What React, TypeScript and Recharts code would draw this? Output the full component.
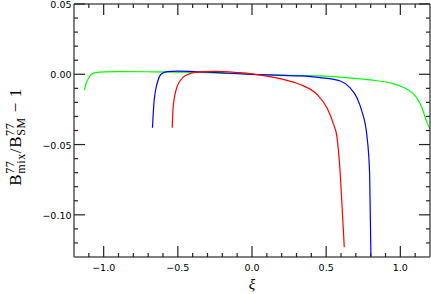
import { LineChart, Line, XAxis, YAxis } from 'recharts';

// tick positions (majors every 0.5 on x, every 0.05 on y)
const xMajorTicks = [-1.0, -0.5, 0, 0.5, 1.0];
const xMinorTicks = [
  -1.1, -0.9, -0.8, -0.7, -0.6, -0.4, -0.3, -0.2, -0.1,
  0.1, 0.2, 0.3, 0.4, 0.6, 0.7, 0.8, 0.9, 1.1,
];
const yMajorTicks = [-0.10, -0.05, 0, 0.05];
const yMinorTicks = [
  -0.12, -0.11, -0.09, -0.08, -0.07, -0.06, -0.04, -0.03,
  -0.02, -0.01, 0.01, 0.02, 0.03, 0.04,
];

// curves: [xi, value]
const greenCurve: [number, number][] = [
  [-1.13, -0.0112], [-1.12, -0.0071], [-1.10, -0.0024], [-1.08, 0.0002],
  [-1.05, 0.0012], [-1.0, 0.0017], [-0.9, 0.0019], [-0.7, 0.0018],
  [-0.5, 0.0015], [-0.3, 0.0011], [-0.1, 0.0005], [0.0, 0.0],
  [0.2, -0.0005], [0.46, -0.0012], [0.65, -0.0025], [0.8, -0.004],
  [0.95, -0.0067], [1.045, -0.0107], [1.11, -0.0166], [1.146, -0.0238],
  [1.18, -0.0344], [1.2, -0.039],
];
const blueCurve: [number, number][] = [
  [-0.671, -0.038], [-0.666, -0.028], [-0.662, -0.0214], [-0.651, -0.0119],
  [-0.635, -0.0048], [-0.613, 0.0], [-0.572, 0.0019], [-0.5, 0.0022],
  [-0.35, 0.0017], [-0.2, 0.001], [0.0, 0.0], [0.2, -0.0008],
  [0.32, -0.0012], [0.46, -0.0024], [0.595, -0.0048], [0.66, -0.0095],
  [0.707, -0.0166], [0.74, -0.026], [0.775, -0.044], [0.793, -0.071],
  [0.802, -0.13],
];
const redCurve: [number, number][] = [
  [-0.538, -0.038], [-0.532, -0.0238], [-0.514, -0.0119], [-0.486, -0.0048],
  [-0.441, -0.0005], [-0.374, 0.0016], [-0.25, 0.002], [-0.1, 0.0012],
  [0.0, 0.0003], [0.1, -0.0013], [0.21, -0.0036], [0.32, -0.0071],
  [0.437, -0.0142], [0.505, -0.0238], [0.55, -0.0356], [0.572, -0.044],
  [0.595, -0.071], [0.61, -0.0996], [0.622, -0.123],
];

const toRows = (pts: [number, number][]) => pts.map(([xi, v]) => ({ xi, v }));

const W = 431;
const H = 294;
const X_DOMAIN: [number, number] = [-1.2, 1.2];
const Y_DOMAIN: [number, number] = [-0.13, 0.05];
// plot box: margin top 3 + top axis 1, left axis 74, right axis 1, bottom axis 37
const PLOT = { left: 74, top: 4, width: W - 74 - 1, height: H - 4 - 37 };
const TICK_FONT = 'DejaVu Sans';
const TICK_COLOR = '#222';
const FRAME = { stroke: '#555', strokeWidth: 1.5 };
const M = 2;
const MAJOR = 11;
const MINOR = 4;

const fmt = (v: number, d: number) => {
  const s = Math.abs(v).toFixed(d);
  return v < -1e-9 ? '\u2212' + s : s;
};

function BottomLabel({ x, y, payload }: any) {
  return (
    <text x={x} y={y - M + 14} textAnchor="middle" fontFamily={TICK_FONT} fontSize={9.5} fill="#000">
      {fmt(payload.value, 1)}
    </text>
  );
}

function LeftLabel({ x, y, payload }: any) {
  return (
    <text x={x + M - 2.5} y={y + 4} textAnchor="end" fontFamily={TICK_FONT} fontSize={9.5} fill="#000">
      {fmt(payload.value, 2)}
    </text>
  );
}

// inward tick marks on all four sides of the frame
function TickMarks() {
  const sx = (t: number) => PLOT.left + ((t - X_DOMAIN[0]) / (X_DOMAIN[1] - X_DOMAIN[0])) * PLOT.width;
  const sy = (v: number) => PLOT.top + ((Y_DOMAIN[1] - v) / (Y_DOMAIN[1] - Y_DOMAIN[0])) * PLOT.height;
  const bottom = PLOT.top + PLOT.height;
  const right = PLOT.left + PLOT.width;
  const xs = [
    ...xMajorTicks.map((t) => ({ p: sx(t), len: MAJOR })),
    ...xMinorTicks.map((t) => ({ p: sx(t), len: MINOR })),
  ];
  const ys = [
    ...yMajorTicks.map((t) => ({ p: sy(t), len: MAJOR })),
    ...yMinorTicks.map((t) => ({ p: sy(t), len: MINOR })),
  ];
  return (
    <svg width={W} height={H} style={{ position: 'absolute', left: 0, top: 0, pointerEvents: 'none' }}>
      <g stroke={TICK_COLOR} strokeWidth={1.2}>
        {xs.map(({ p, len }, i) => (
          <g key={`x${i}`}>
            <line x1={p} x2={p} y1={bottom} y2={bottom - len} />
            <line x1={p} x2={p} y1={PLOT.top} y2={PLOT.top + len} />
          </g>
        ))}
        {ys.map(({ p, len }, i) => (
          <g key={`y${i}`}>
            <line x1={PLOT.left} x2={PLOT.left + len} y1={p} y2={p} />
            <line x1={right} x2={right - len} y1={p} y2={p} />
          </g>
        ))}
      </g>
    </svg>
  );
}

function YLabel() {
  return (
    <text
      transform="translate(21,137) rotate(-90)"
      textAnchor="middle"
      fontFamily="Liberation Serif"
      fontSize={17}
      fill="#000"
      letterSpacing={0.6}
    >
      <tspan>B</tspan>
      <tspan dy={-7} fontSize={12}>77</tspan>
      <tspan dx={-13} dy={11} fontSize={12}>mix</tspan>
      <tspan dy={-4}>/B</tspan>
      <tspan dy={-7} fontSize={12}>77</tspan>
      <tspan dx={-13} dy={11} fontSize={12}>SM</tspan>
      <tspan dy={-4}>{' \u2212 1'}</tspan>
    </text>
  );
}

function XLabel({ viewBox }: any) {
  const { x, y, width } = viewBox;
  return (
    <text x={x + width / 2} y={y + 32} textAnchor="middle" fontFamily="Liberation Serif"
      fontStyle="italic" fontSize={15} fill="#000">
      ξ
    </text>
  );
}

export default function App() {
  return (
    <div style={{ position: 'absolute', left: 0, top: 0, width: W, height: H, background: '#fff' }}>
      <LineChart width={W} height={H} margin={{ top: 3, right: 0, bottom: 0, left: 0 }}>
        <XAxis
          xAxisId="b" type="number" dataKey="xi" domain={X_DOMAIN} ticks={xMajorTicks} interval={0}
          height={37} tickSize={0} tickLine={false} axisLine={FRAME}
          tick={(p: any) => <BottomLabel {...p} />} label={(p: any) => <XLabel {...p} />}
        />
        <XAxis
          xAxisId="t" type="number" dataKey="xi" domain={X_DOMAIN} orientation="top" height={1}
          tick={false} tickLine={false} axisLine={FRAME}
        />
        <YAxis
          yAxisId="l" type="number" domain={Y_DOMAIN} ticks={yMajorTicks} interval={0}
          width={74} tickSize={0} tickLine={false} axisLine={FRAME}
          tick={(p: any) => <LeftLabel {...p} />} label={() => <YLabel />}
        />
        <YAxis
          yAxisId="r" type="number" domain={Y_DOMAIN} orientation="right" width={1}
          tick={false} tickLine={false} axisLine={FRAME}
        />
        <Line xAxisId="t" yAxisId="r" data={toRows(greenCurve)} dataKey="v" type="monotone"
          stroke="#00ff00" strokeWidth={1.2} dot={false} isAnimationActive={false} />
        <Line xAxisId="b" yAxisId="l" data={toRows(blueCurve)} dataKey="v" type="monotone"
          stroke="#0000ff" strokeWidth={1.2} dot={false} isAnimationActive={false} />
        <Line xAxisId="b" yAxisId="l" data={toRows(redCurve)} dataKey="v" type="monotone"
          stroke="#ff0000" strokeWidth={1.2} dot={false} isAnimationActive={false} />
      </LineChart>
      <TickMarks />
    </div>
  );
}
